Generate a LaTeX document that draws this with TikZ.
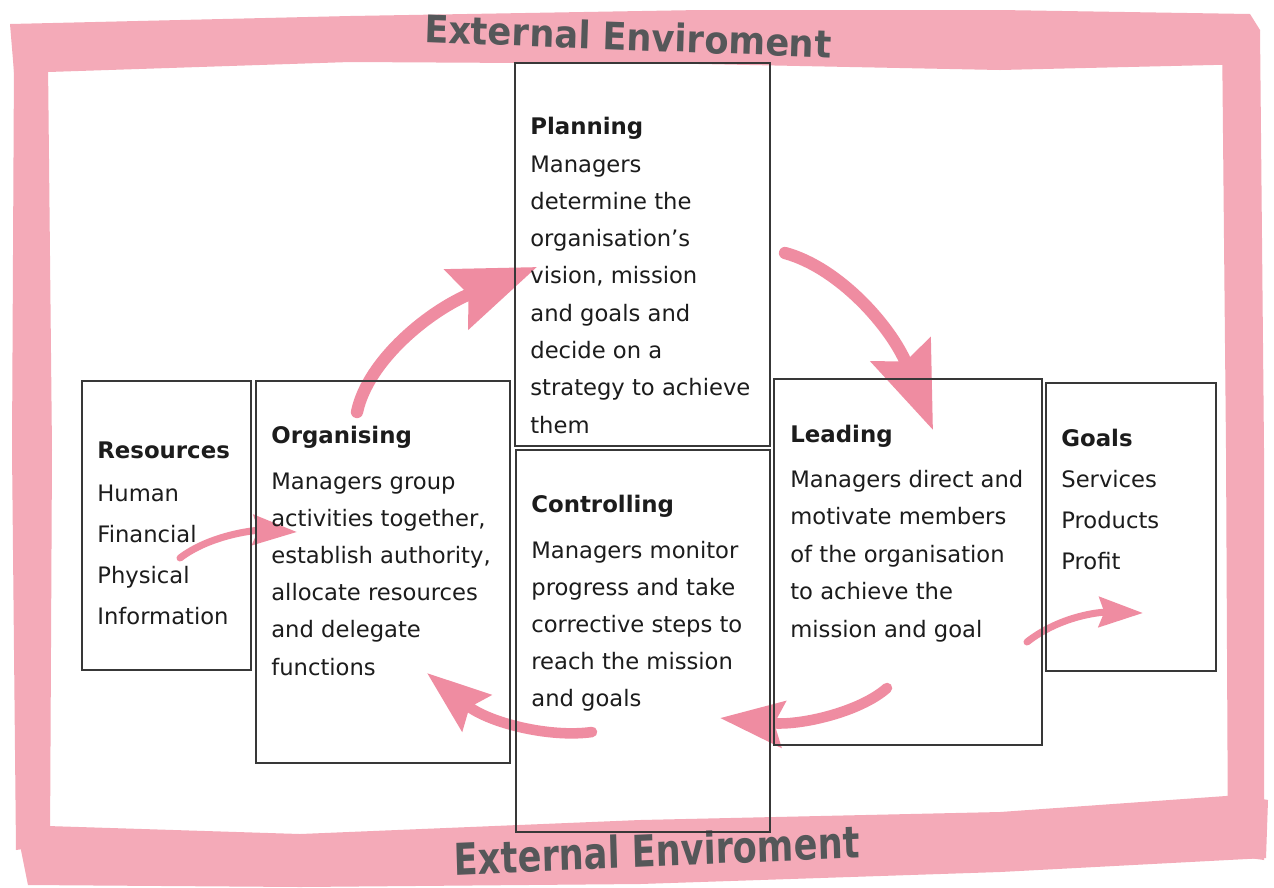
\documentclass[tikz,border=0pt]{standalone}
\usepackage{fontspec}
\setmainfont{DejaVu Sans}
\usetikzlibrary{arrows.meta}
\definecolor{framec}{HTML}{F4AAB8}
\definecolor{arrc}{HTML}{EF8CA1}
\definecolor{ink}{HTML}{1C1C1C}
\definecolor{titlec}{HTML}{555759}
\definecolor{edgec}{HTML}{383838}
\begin{document}
\begin{tikzpicture}[x=0.02cm,y=-0.02cm,
  band/.style={fill=framec,draw=none},
  flow/.style={draw=arrc,line cap=round,line width=#1},
  bighead/.style={-{Stealth[length=49pt,width=36pt,inset=7pt]}},
  midhead/.style={-{Stealth[length=36pt,width=26pt,inset=5pt]}},
  smallhead/.style={-{Stealth[length=25pt,width=17pt,inset=3pt]}},
  box/.style={draw=edgec,line width=0.9pt,fill=none,anchor=north west,inner sep=0},
  hd/.style={anchor=base west,inner sep=0,font=\bfseries\fontsize{13}{15}\selectfont,text=ink},
  tx/.style={anchor=base west,inner sep=0,font=\fontsize{12.9}{15}\selectfont,text=ink},
  etitle/.style={inner sep=0,text=titlec,font=\bfseries\fontsize{#1}{#1}\selectfont}
]
\useasboundingbox[fill=white] (0,0) rectangle (1274,887);

% frame (brush strokes)
\fill[band] (10,24) -- (350,16) -- (700,10) -- (1000,10) -- (1250,14) -- (1260,30) -- (1256,64) -- (1000,70) -- (700,64) -- (350,62) -- (48,72) -- (14,72) -- cycle;
\fill[band] (14,60) -- (48,62) -- (52,450) -- (50,845) -- (16,850) -- (12,450) -- cycle;
\fill[band] (1222,30) -- (1260,30) -- (1264,450) -- (1264,860) -- (1228,855) -- (1226,450) -- cycle;
\fill[band] (16,825) -- (300,834) -- (640,820) -- (1000,812) -- (1240,795) -- (1268,800) -- (1266,858) -- (1000,872) -- (640,884) -- (300,887) -- (28,885) -- cycle;

\node[etitle=21.6,xscale=0.93,rotate=-2] (exttop) at (628,36) {External Enviroment};
\node[etitle=25,xscale=0.8,rotate=2] (extbot) at (657,850) {External Enviroment};

% arrow end points
\coordinate (a1s) at (357,412); \coordinate (a1e) at (537,267);
\coordinate (a2s) at (785,253); \coordinate (a2e) at (933,430);
\coordinate (a3s) at (887,688); \coordinate (a3e) at (720,718);
\coordinate (a4s) at (592,732); \coordinate (a4e) at (427,673);
\coordinate (a5s) at (180,558); \coordinate (a5e) at (297,532);
\coordinate (a6s) at (1027,642); \coordinate (a6e) at (1143,613);

% arrows (under the boxes)
\draw[flow=7pt,bighead] (a1s) .. controls (368,360) and (430,310) .. (a1e);
\draw[flow=7pt,bighead] (a2s) .. controls (840,268) and (892,328) .. (a2e);
\draw[flow=6pt,midhead] (a3s) .. controls (860,712) and (800,726) .. (a3e);
\draw[flow=6pt,midhead] (a4s) .. controls (550,738) and (489,723) .. (a4e);
\draw[flow=4pt,smallhead] (a5s) .. controls (210,535) and (255,530) .. (a5e);
\draw[flow=4pt,smallhead] (a6s) .. controls (1060,616) and (1100,612) .. (a6e);

% boxes
\node[box,minimum width=169*0.02cm,minimum height=289*0.02cm] (res) at (81,380) {};
\node[box,minimum width=254*0.02cm,minimum height=382*0.02cm] (org) at (255,380) {};
\node[box,minimum width=255*0.02cm,minimum height=383*0.02cm] (plan) at (514,62) {};
\node[box,minimum width=254*0.02cm,minimum height=382*0.02cm] (ctrl) at (515,449) {};
\node[box,minimum width=268*0.02cm,minimum height=366*0.02cm] (lead) at (773,378) {};
\node[box,minimum width=170*0.02cm,minimum height=288*0.02cm] (goal) at (1045,382) {};

% texts
\node[hd] (plan-t) at (530,134) {Planning};
\foreach \s [count=\i] in {Managers,determine the,organisation’s,{vision, mission},and goals and,decide on a,strategy to achieve,them}
  \node[tx] (plan-\i) at ({530},{172+37.3*(\i-1)}) {\s};

\node[hd] (org-t) at (271,443) {Organising};
\foreach \s [count=\i] in {Managers group,{activities together,},{establish authority,},allocate resources,and delegate,functions}
  \node[tx] (org-\i) at ({271},{489+37.2*(\i-1)}) {\s};

\node[hd] (res-t) at (97,458) {Resources};
\foreach \s [count=\i] in {Human,Financial,Physical,Information}
  \node[tx] (res-\i) at ({97},{501+41*(\i-1)}) {\s};

\node[hd] (ctrl-t) at (531,512) {Controlling};
\foreach \s [count=\i] in {Managers monitor,progress and take,corrective steps to,reach the mission,and goals}
  \node[tx] (ctrl-\i) at ({531},{558+37.2*(\i-1)}) {\s};

\node[hd] (lead-t) at (790,442) {Leading};
\foreach \s [count=\i] in {Managers direct and,motivate members,of the organisation,to achieve the,mission and goal}
  \node[tx] (lead-\i) at ({790},{487+37.5*(\i-1)}) {\s};

\node[hd] (goal-t) at (1061,446) {Goals};
\foreach \s [count=\i] in {Services,Products,Profit}
  \node[tx] (goal-\i) at ({1061},{487+41*(\i-1)}) {\s};
\end{tikzpicture}
\end{document}
